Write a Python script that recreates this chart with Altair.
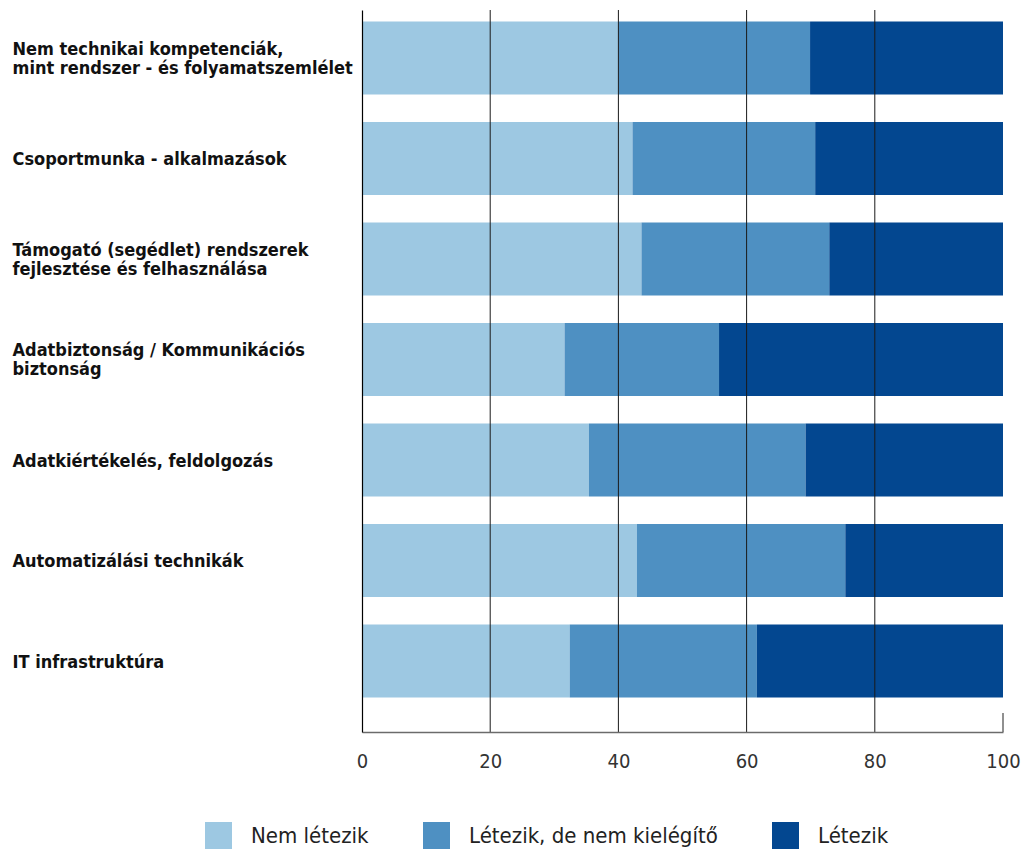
import altair as alt
import pandas as pd

# Survey categories (a "|" marks a line break in the axis label)
categories = [
    "Nem technikai kompetenciák,|mint rendszer - és folyamatszemlélet",
    "Csoportmunka - alkalmazások",
    "Támogató (segédlet) rendszerek|fejlesztése és felhasználása",
    "Adatbiztonság / Kommunikációs|biztonság",
    "Adatkiértékelés, feldolgozás",
    "Automatizálási technikák",
    "IT infrastruktúra",
]

series = ["Nem létezik", "Létezik, de nem kielégítő", "Létezik"]

# Share of answers (%) per category
nem_letezik = [40.0, 42.2, 43.6, 31.6, 35.4, 42.9, 32.4]
nem_kielegito = [29.9, 28.5, 29.3, 24.1, 33.8, 32.5, 29.2]
letezik = [30.1, 29.3, 27.1, 44.3, 30.8, 24.6, 38.4]

colors = ["#9dc8e2", "#4e90c2", "#034790"]
x_ticks = [0, 20, 40, 60, 80, 100]
grid_at = [20, 40, 60, 80]

rows = []
for i, cat in enumerate(categories):
    for j, (name, vals) in enumerate(zip(series, [nem_letezik, nem_kielegito, letezik])):
        rows.append({"kategoria": cat, "valasz": name, "rend": j, "ertek": vals[i]})
df = pd.DataFrame(rows)

W, H = 641, 722
FONT = "Liberation Sans Narrow, DejaVu Sans Condensed, Open Sans"

x_scale = alt.Scale(domain=[0, 100], nice=False)

bars = alt.Chart(df).mark_bar().encode(
    x=alt.X(
        "ertek:Q",
        stack="zero",
        scale=x_scale,
        axis=alt.Axis(
            title=None,
            values=x_ticks,
            grid=False,
            ticks=False,
            domainColor="#6b6b6b",
            domainWidth=1.5,
            labelFont=FONT,
            labelFontSize=20,
            labelColor="#333333",
            labelPadding=19,
            labelFlush=False,
            zindex=1,
        ),
    ),
    y=alt.Y(
        "kategoria:N",
        sort=categories,
        scale=alt.Scale(paddingInner=0.274, paddingOuter=0.229, align=0.25),
        axis=alt.Axis(
            title=None,
            ticks=False,
            domainColor="#000000",
            domainWidth=1.2,
            labelAlign="left",
            labelBaseline="middle",
            labelPadding=350,
            labelLimit=400,
            labelFont=FONT,
            labelFontSize=18,
            labelFontWeight="bold",
            labelColor="#111111",
            labelLineHeight=19,
            labelExpr="split(datum.label, '|')",
            # two-line labels are lifted so the block sits centred on its bar
            labelOffset={
                "condition": {"test": "indexof(datum.value, '|') >= 0", "value": -8},
                "value": 2,
            },
            zindex=1,
        ),
    ),
    color=alt.Color(
        "valasz:N",
        scale=alt.Scale(domain=series, range=colors),
        legend=alt.Legend(
            title=None,
            orient="none",
            legendX=-157,
            legendY=812,
            direction="horizontal",
            symbolType="square",
            symbolSize=729,
            symbolStrokeWidth=0,
            symbolOpacity=1,
            labelFont=FONT,
            labelFontSize=22,
            labelLimit=400,
            labelColor="#222222",
            labelOffset=19,
            columnPadding=54,
            padding=0,
        ),
    ),
    order=alt.Order("rend:Q"),
)

# Vertical reference lines drawn over the bars
grid = alt.Chart(pd.DataFrame({"x": grid_at})).mark_rule(
    color="#1a1a1a", strokeWidth=1
).encode(x=alt.X("x:Q", scale=x_scale))

# Short closing tick at the right end of the axis
end_tick = alt.Chart(pd.DataFrame({"x": [100]})).mark_rule(
    color="#6b6b6b", strokeWidth=1.5
).encode(x=alt.X("x:Q", scale=x_scale), y=alt.value(H - 19), y2=alt.value(H))

chart = (
    alt.layer(bars, grid, end_tick)
    .properties(
        width=W,
        height=H,
        padding={"left": 362, "top": 10, "right": 25, "bottom": 121},
        autosize=alt.AutoSizeParams(type="none"),
        background="#ffffff",
    )
    .configure_view(stroke=None)
)

chart.save("out.html", embed_options={"renderer": "svg", "actions": False})
